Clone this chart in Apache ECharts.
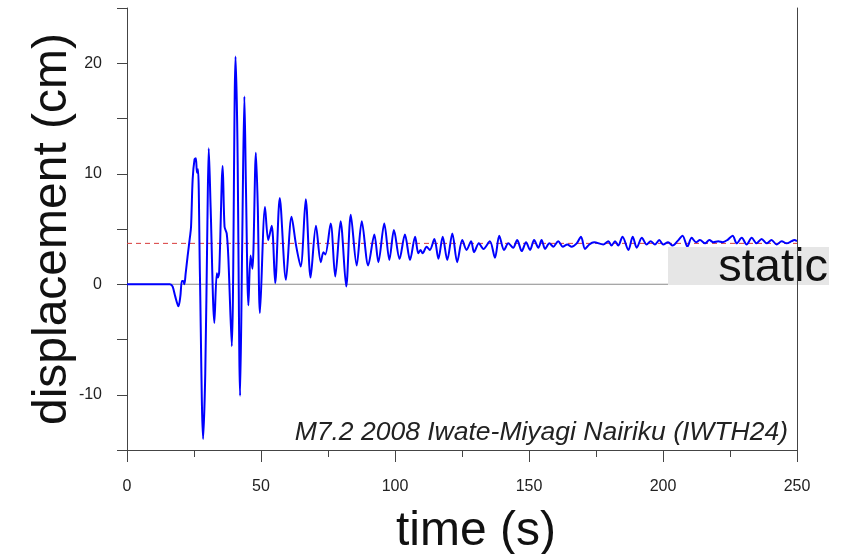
<!DOCTYPE html>
<html>
<head>
<meta charset="utf-8">
<script src="https://cdn.jsdelivr.net/npm/echarts@6/dist/echarts.min.js"></script>
<style>html,body{margin:0;padding:0;background:#fff}#chart{width:849px;height:554px}</style>
</head>
<body>
<div id="chart"></div>
<script>
// ---- data ----
const time = [0, 16.0, 17.0, 18.0, 19.2, 19.9, 20.5, 21.0, 21.4, 21.9, 22.6, 23.5, 23.9, 24.5, 25.2, 25.7, 26.1, 26.5, 27.2, 28.4,
  29.2, 30.0, 30.5, 31.2, 32.6, 33.5, 33.9, 34.4, 35.7, 36.4, 37.2, 37.8, 39.1, 40.5, 41.2, 42.2, 43.0, 43.8, 44.4, 45.3,
  46.1, 46.8, 48.1, 48.8, 49.6, 51.5, 52.7, 54.0, 55.3, 57.0, 59.3, 61.4, 63.1, 64.8, 66.7, 68.5, 70.5, 72.3, 73.3, 74.0,
  76.0, 77.7, 79.7, 81.8, 83.5, 85.7, 87.6, 90.0, 92.3, 93.8, 96.0, 97.9, 99.6, 101.7, 103.7, 105.6, 107.5, 108.7, 109.5, 110.3,
  111.8, 113.0, 114.7, 116.2, 117.8, 119.5, 121.4, 123.2, 125.1, 126.7, 128.4, 129.5, 131.3, 133.0, 135.4, 137.3, 138.9, 140.7, 142.3, 144.1,
  145.6, 147.3, 148.9, 150.4, 151.9, 153.5, 154.7, 156.0, 157.6, 159.1, 160.9, 162.6, 164.3, 165.9, 167.8, 169.4, 170.9, 172.5, 174.3, 177.7,
  179.6, 180.8, 182.1, 183.3, 184.9, 187.1, 188.7, 190.2, 192.1, 193.9, 195.4, 197.0, 198.6, 200.1, 201.9, 203.6, 205.4, 207.3, 209.1, 210.7,
  212.3, 213.8, 215.7, 217.3, 218.8, 220.6, 222.3, 224.0, 226.0, 227.5, 229.4, 231.2, 233.1, 234.9, 236.8, 238.7, 240.5, 242.4, 244.3, 246.1,
  248.0, 249.0, 250.0];
const displacement = [0, 0, -0.2, -1.1, -2.0, -1.1, 0.3, 0.3, 0.0, 1.0, 2.5, 4.3, 5.2, 9.5, 11.3, 11.4, 10.1, 10.4, 1.0, -14.0,
  -8.1, 5.5, 12.3, 7.0, -3.5, 1.0, 0.6, 1.1, 10.7, 5.2, 4.6, 2.5, -5.6, 20.6, 13.1, -10.1, 4.0, 17.0, 8.5, -1.9,
  2.6, 1.4, 11.9, 7.0, -2.6, 7.0, 4.0, 5.3, 0.1, 7.8, 0.4, 6.1, 3.5, 1.6, 7.7, 0.6, 5.3, 2.0, 2.9, 2.7,
  5.5, 0.7, 5.7, -0.2, 6.3, 1.7, 5.7, 1.7, 4.5, 2.0, 5.5, 2.2, 4.9, 2.3, 4.5, 2.2, 4.3, 2.8, 3.1, 2.8,
  3.4, 3.1, 4.1, 2.3, 4.3, 2.2, 4.6, 2.0, 4.0, 3.1, 3.9, 2.9, 3.7, 3.2, 3.9, 2.4, 4.4, 3.1, 3.7, 3.3,
  4.0, 3.0, 3.8, 3.1, 4.0, 3.3, 4.0, 3.2, 3.7, 3.4, 3.9, 3.4, 3.6, 3.4, 3.7, 4.3, 3.2, 3.6, 3.8, 3.6,
  3.9, 3.5, 3.9, 3.5, 4.3, 3.1, 4.3, 3.3, 4.2, 3.6, 3.9, 3.6, 4.0, 3.6, 3.8, 3.5, 3.9, 4.4, 3.4, 4.2,
  3.8, 4.0, 3.7, 4.0, 3.8, 3.9, 3.8, 4.0, 4.4, 3.7, 4.2, 3.6, 4.2, 3.7, 4.1, 3.7, 4.0, 3.6, 3.9, 3.7,
  3.9, 4.0, 3.9];
const staticLevel = 3.7;
const zeroLevel = 0;
const xTickLabels = [0, 50, 100, 150, 200, 250];
const yTickLabels = [-10, 0, 10, 20];
const titleText = 'M7.2 2008 Iwate-Miyagi Nairiku (IWTH24)';
const staticText = 'static';

// ---- chart ----
const seriesData = time.map((t, i) => [t, displacement[i]]);
const xMin = 0, xMax = 250;
const FONT = '"Liberation Sans", Arial, sans-serif';
const axisColor = '#444';

const chart = echarts.init(document.getElementById('chart'), null, {renderer: 'canvas'});
chart.setOption({
  animation: false,
  backgroundColor: '#ffffff',
  textStyle: {fontFamily: FONT},
  title: {
    text: titleText,
    right: 61, top: 419, padding: 0,
    textStyle: {fontStyle: 'italic', fontWeight: 'normal', fontSize: 26.5, color: '#222', fontFamily: FONT}
  },
  grid: {left: 127, right: 52, top: 8, bottom: 104, containLabel: false, outerBoundsMode: 'none'},
  xAxis: {
    type: 'value', min: xMin, max: xMax, interval: 50, position: 'bottom',
    name: 'time (s)', nameLocation: 'middle', nameGap: 58, nameMoveOverlap: false,
    nameTextStyle: {fontSize: 48, color: '#111', fontFamily: FONT, padding: [0, 0, 0, 28]},
    axisLine: {show: true, onZero: false, lineStyle: {color: axisColor, width: 1}},
    axisTick: {show: true, length: 12, lineStyle: {color: axisColor}},
    minorTick: {show: true, splitNumber: 2, length: 7, lineStyle: {color: axisColor}},
    axisLabel: {fontSize: 16, color: '#222', margin: 29,
      formatter: v => xTickLabels.includes(v) ? String(v) : ''},
    splitLine: {show: false}
  },
  yAxis: [{
    type: 'value', min: -15, max: 25, interval: 5, position: 'left',
    name: 'displacement (cm)', nameLocation: 'middle', nameGap: 50, nameRotate: 90, nameMoveOverlap: false,
    nameTextStyle: {fontSize: 48, color: '#111', fontFamily: FONT},
    axisLine: {show: true, onZero: false, lineStyle: {color: axisColor, width: 1}},
    axisTick: {show: true, length: 10, lineStyle: {color: axisColor}},
    axisLabel: {fontSize: 16, color: '#222', margin: 25,
      formatter: v => yTickLabels.includes(v) ? String(v) : ''},
    splitLine: {show: false}
  }, {
    type: 'value', min: -15, max: 25, interval: 5, position: 'right', z: 10,
    axisLine: {show: true, onZero: false, lineStyle: {color: axisColor, width: 1}},
    axisTick: {show: false}, axisLabel: {show: false}, splitLine: {show: false}
  }],
  graphic: [{
    type: 'rect', z: 5,
    shape: {x: 668, y: 247, width: 161, height: 38},
    style: {fill: '#e6e6e6'}
  }, {
    type: 'text', z: 6,
    x: 828, y: 268,
    style: {text: staticText, font: '47px "Liberation Sans", Arial, sans-serif', fill: '#111',
      textAlign: 'right', textVerticalAlign: 'middle'}
  }],
  series: [{
    name: 'zero', type: 'line', z: 1, silent: true, showSymbol: false,
    data: [[xMin, zeroLevel], [xMax, zeroLevel]],
    lineStyle: {color: '#8a8a8a', width: 1, type: 'solid'}
  }, {
    name: 'static', type: 'line', z: 1, silent: true, showSymbol: false,
    data: [[xMin, staticLevel], [xMax, staticLevel]],
    lineStyle: {color: '#d83a3a', width: 1, type: [5, 4]}
  }, {
    name: 'displacement', type: 'line', z: 3, data: seriesData, showSymbol: false, smooth: 0.3,
    lineStyle: {color: '#0000ff', width: 2}
  }]
});
</script>
</body>
</html>
